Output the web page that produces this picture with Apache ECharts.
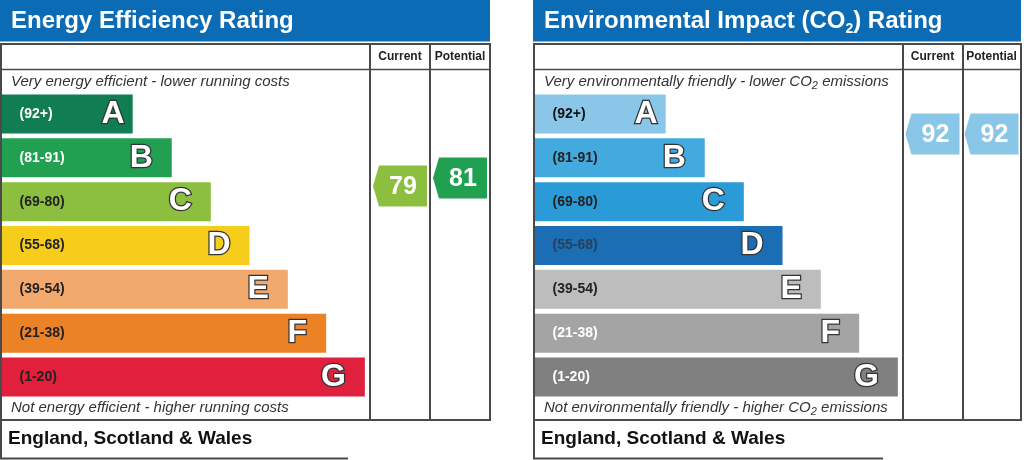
<!DOCTYPE html>
<html>
<head>
<meta charset="utf-8">
<title>Energy Efficiency / Environmental Impact Rating</title>
<script src="https://cdn.jsdelivr.net/npm/echarts@6/dist/echarts.min.js"></script>
<style>
  html, body { margin: 0; padding: 0; background: #fff; }
  #chart { width: 1024px; height: 460px; }
</style>
</head>
<body>
<div id="chart"></div>
<script>
// rating bands, best (top) to worst (bottom)
const bands = ['A', 'B', 'C', 'D', 'E', 'F', 'G'];
const bandRanges = ['(92+)', '(81-91)', '(69-80)', '(55-68)', '(39-54)', '(21-38)', '(1-20)'];
const bandMins = [92, 81, 69, 55, 39, 21, 1];
// length of each band bar, 0-100 of the bar area
const bandLengths = [35.6, 46.2, 56.8, 67.3, 77.7, 88.1, 98.6];
const columns = ['Current', 'Potential'];

// energy efficiency
const energyColors = ['#107d52', '#22a052', '#8cbf3f', '#f5cd1a', '#f2a96e', '#ec8226', '#e0203d'];
const energyRangeText = ['#fff', '#fff', '#222', '#222', '#222', '#222', '#222'];
const energyScores = [79, 81]; // current, potential

// environmental impact (CO2)
const co2Colors = ['#8ac6e8', '#42aade', '#2a9bd6', '#1b6db4', '#bdbdbd', '#a4a4a4', '#808080'];
const co2RangeText = ['#111', '#222', '#222', '#26405e', '#222', '#fff', '#fff'];
const co2Scores = [92, 92];

const FONT = '"Liberation Sans", Arial, sans-serif';
const LINE = '#4a4a4a';

function bandIndex(score) {
  return bandMins.findIndex(m => score >= m);
}

const panels = [
  {
    title: '{t|Energy Efficiency Rating}',
    topNote: '{i|Very energy efficient - lower running costs}',
    bottomNote: '{i|Not energy efficient - higher running costs}',
    colors: energyColors,
    rangeText: energyRangeText,
    scores: energyScores,
    left: 0, right: 490, colX: 370, footRight: 348
  },
  {
    title: '{t|Environmental Impact (CO}{s|2}{t|) Rating}',
    topNote: '{i|Very environmentally friendly - lower CO}{u|2}{i| emissions}',
    bottomNote: '{i|Not environmentally friendly - higher CO}{u|2}{i| emissions}',
    colors: co2Colors,
    rangeText: co2RangeText,
    scores: co2Scores,
    left: 533, right: 1021, colX: 903, footRight: 883
  }
];

const titleRich = {
  t: { fill: '#fff', fontSize: 24, fontWeight: 'bold', fontFamily: FONT, lineHeight: 30 },
  s: { fill: '#fff', fontSize: 14, fontWeight: 'bold', fontFamily: FONT, lineHeight: 16, verticalAlign: 'bottom' }
};
const noteRich = {
  i: { fill: '#333', fontSize: 15, fontStyle: 'italic', fontFamily: FONT, lineHeight: 19 },
  u: { fill: '#333', fontSize: 11, fontStyle: 'italic', fontFamily: FONT, lineHeight: 11, verticalAlign: 'bottom' }
};

const grid = [], xAxis = [], yAxis = [], series = [], elements = [];

panels.forEach((p, i) => {
  const L = p.left, R = p.right;

  // band bars
  grid.push({ left: L + 1.5, top: 92, width: p.colX - L - 1.5, height: 307, outerBoundsMode: 'none' });
  xAxis.push({ gridIndex: 2 * i, type: 'value', min: 0, max: 100, show: false });
  yAxis.push({ gridIndex: 2 * i, type: 'category', data: bands, inverse: true, show: false });

  // current / potential arrows, score axis 25..100
  grid.push({ left: p.colX, top: 102, width: R - p.colX, height: 300, outerBoundsMode: 'none' });
  xAxis.push({
    gridIndex: 2 * i + 1, type: 'category', data: columns, position: 'top',
    axisLine: { show: false }, axisTick: { show: false },
    axisLabel: { interval: 0, margin: 45, verticalAlign: 'middle', color: '#222', fontSize: 12, fontWeight: 'bold', fontFamily: FONT }
  });
  yAxis.push({ gridIndex: 2 * i + 1, type: 'value', min: 25, max: 100, show: false });

  series.push({
    type: 'bar',
    xAxisIndex: 2 * i, yAxisIndex: 2 * i,
    barWidth: 39, barGap: '-100%',
    silent: true,
    data: bandLengths.map((v, k) => ({
      value: v,
      itemStyle: { color: p.colors[k] },
      label: { color: p.rangeText[k] }
    })),
    label: {
      show: true, position: 'insideLeft', distance: 18,
      formatter: d => bandRanges[d.dataIndex],
      fontSize: 14, fontWeight: 'bold', fontFamily: FONT
    }
  });
  series.push({
    type: 'bar',
    xAxisIndex: 2 * i, yAxisIndex: 2 * i,
    barWidth: 39, barGap: '-100%',
    silent: true,
    itemStyle: { color: 'rgba(0,0,0,0)' },
    data: bandLengths.map((v, k) => ({ value: v, label: { distance: k === 0 ? 8 : 19 } })),
    label: {
      show: true, position: 'insideRight',
      formatter: d => bands[d.dataIndex],
      color: '#fff', textBorderColor: '#333', textBorderWidth: 2.5,
      fontSize: 32, fontWeight: 'bold', fontFamily: FONT
    }
  });
  series.push({
    type: 'scatter',
    xAxisIndex: 2 * i + 1, yAxisIndex: 2 * i + 1,
    silent: true,
    symbol: 'path://M6,0L54,0L54,41L6,41L0,20.5Z',
    symbolSize: [54, 41],
    symbolKeepAspect: false,
    data: p.scores.map((s, k) => ({ value: [k, s], itemStyle: { color: p.colors[bandIndex(s)], opacity: 1 } })),
    label: {
      show: true, position: 'inside', offset: [3, 1],
      formatter: d => d.value[1],
      color: '#fff', fontSize: 25, fontWeight: 'bold', fontFamily: FONT
    }
  });

  // frame, headings and notes
  elements.push(
    { type: 'rect', z: 1, shape: { x: L, y: 0, width: R - L, height: 41.5 }, style: { fill: '#0b6cb5' } },
    { type: 'text', z: 11, x: L + 11, y: 21, style: { text: p.title, verticalAlign: 'middle', rich: titleRich } },
    { type: 'rect', z: 10, shape: { x: L + 1, y: 44, width: R - L - 1, height: 376 }, style: { fill: 'none', stroke: LINE, lineWidth: 2 } },
    { type: 'line', z: 10, shape: { x1: L + 1, y1: 69.5, x2: R, y2: 69.5 }, style: { stroke: LINE, lineWidth: 1.5 } },
    { type: 'line', z: 10, shape: { x1: p.colX, y1: 44, x2: p.colX, y2: 420 }, style: { stroke: LINE, lineWidth: 2 } },
    { type: 'line', z: 10, shape: { x1: p.colX + 60, y1: 44, x2: p.colX + 60, y2: 420 }, style: { stroke: LINE, lineWidth: 2 } },
    { type: 'line', z: 10, shape: { x1: L + 1, y1: 420, x2: L + 1, y2: 459 }, style: { stroke: LINE, lineWidth: 2 } },
    { type: 'line', z: 10, shape: { x1: L, y1: 458.5, x2: p.footRight, y2: 458.5 }, style: { stroke: LINE, lineWidth: 2 } },
    { type: 'text', z: 11, x: L + 11, y: 81.5, style: { text: p.topNote, verticalAlign: 'middle', rich: noteRich } },
    { type: 'text', z: 11, x: L + 11, y: 408, style: { text: p.bottomNote, verticalAlign: 'middle', rich: noteRich } },
    { type: 'text', z: 11, x: L + 8, y: 439, style: { text: 'England, Scotland & Wales', fill: '#111', font: 'bold 19px ' + FONT, verticalAlign: 'middle' } }
  );
});

const chart = echarts.init(document.getElementById('chart'));
chart.setOption({
  animation: false,
  backgroundColor: '#fff',
  grid: grid,
  xAxis: xAxis,
  yAxis: yAxis,
  series: series,
  graphic: { elements: elements }
});
</script>
</body>
</html>
